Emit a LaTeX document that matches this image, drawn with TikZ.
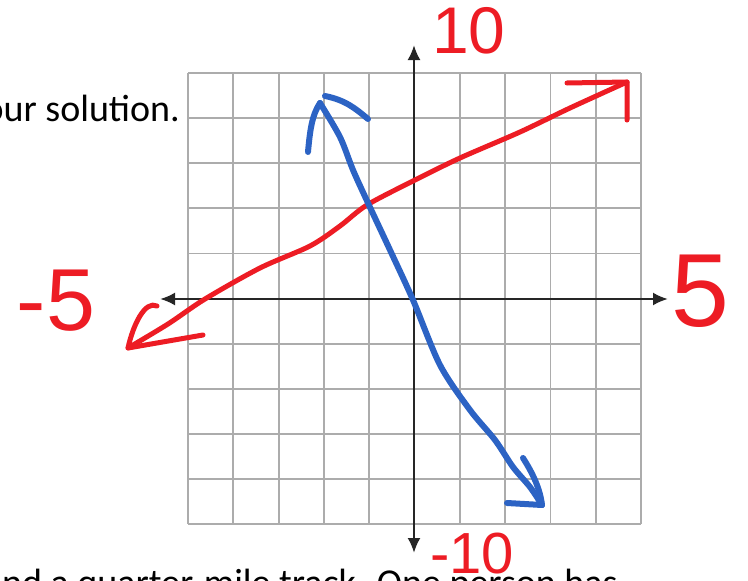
\documentclass[tikz,border=0pt]{standalone}
\usepackage{fontspec}
\setmainfont{Carlito}
\newfontfamily\handfont{Liberation Sans}
\usetikzlibrary{arrows.meta}
\definecolor{gridgray}{RGB}{172,172,172}
\definecolor{penred}{RGB}{237,28,36}
\definecolor{penblue}{RGB}{44,99,196}

\begin{document}
\begin{tikzpicture}[x=1pt,y=-1pt,
    grid line/.style={draw=gridgray,line width=1.8pt},
    axis line/.style={draw=black!85,line width=2.4pt,{Latex[length=15pt,width=13pt]}-{Latex[length=15pt,width=13pt]}},
    red pen/.style={draw=penred,line width=5pt,line cap=round,line join=round},
    blue pen/.style={draw=penblue,line width=6pt,line cap=round,line join=round},
    hand/.style={text=penred,inner sep=0pt},
    doc text/.style={inner sep=0pt,font=\fontsize{38}{40}\selectfont}]

  \useasboundingbox (0,0) rectangle (748,581);

  % Text of the page round the picture
  \node[doc text,anchor=base east] (top text) at (180,121) {our solution.};
  \node[doc text,anchor=base west] (bottom text) at (2,595) {nd a quarter-mile track.  One person has};

  % Grid
  \foreach \i in {0,...,10} {
    \draw[grid line] (188+45.3*\i,73) -- (188+45.3*\i,524);
    \draw[grid line] (188,73+45.1*\i) -- (641,73+45.1*\i);
  }

  % Axes
  \coordinate (xl) at (160,299);
  \coordinate (xr) at (668,299);
  \coordinate (yt) at (414,45);
  \coordinate (yb) at (414,553);
  \draw[axis line] (xl) -- (xr);
  \draw[axis line] (yt) -- (yb);

  % Red line
  \coordinate (rA) at (128,348);
  \coordinate (rB) at (627,82);
  \draw[red pen] plot[smooth,tension=0.5] coordinates {(rA) (168,324) (205,299) (260,268) (310,246) (340,226) (367,205) (415,180) (460,158) (520,132) (570,108) (rB)};
  \draw[red pen] (157,306) .. controls (145,300) and (133,325) .. (rA) -- (203,335);
  \draw[red pen] (567,83) -- (rB) -- (627,120);

  % Blue line
  \coordinate (bA) at (320,103);
  \coordinate (bB) at (542,505);
  \draw[blue pen] plot[smooth,tension=0.5] coordinates {(bA) (340,137) (353,170) (368,203) (390,250) (413,300) (440,365) (470,410) (495,440) (513,467) (530,487) (bB)};
  \draw[blue pen] (308,152) .. controls (310,130) and (312,115) .. (bA);
  \draw[blue pen] (325,96) .. controls (345,100) and (355,108) .. (368,119);
  \draw[blue pen] (523,458) .. controls (532,472) and (540,488) .. (bB);
  \draw[blue pen] (507,503) -- (bB);

  % Hand written numbers
  \node[hand,font=\handfont\fontsize{66}{66}\selectfont] (ten) at (469,31) {10};
  \node[hand,font=\handfont\fontsize{88}{88}\selectfont] (minus five) at (56,301) {-5};
  \node[hand,font=\handfont\fontsize{104}{104}\selectfont] (five) at (700,291) {5};
  \node[hand,font=\handfont\fontsize{58}{58}\selectfont] (minus ten) at (472,554) {-10};
\end{tikzpicture}
\end{document}
